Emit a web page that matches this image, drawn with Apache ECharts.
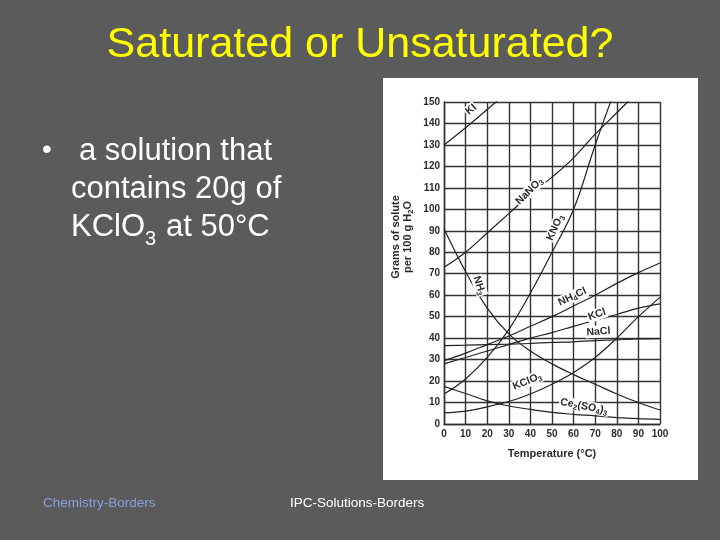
<!DOCTYPE html>
<html><head><meta charset="utf-8">
<script src="https://cdn.jsdelivr.net/npm/echarts@6/dist/echarts.min.js"></script>
<style>html,body{margin:0;padding:0;background:#5b5b5b}#c{width:720px;height:540px}</style>
</head><body><div id="c"></div>
<script>
// Temperatures (°C)
const temps = [0,10,20,30,40,50,60,70,80,90,100];
// Solubility (g solute per 100 g H2O)
const KI      = [130,138,146.5,155,null,null,null,null,null,null,null];
const NaNO3   = [73,80,89,98,107,115,124,135,145,155,null];
const KNO3    = [14,21,31,44,61,80,100,130,158,null,null];
const NH3     = [91,71,54,42,34,28,23,18.5,14,10,6.5];
const NH4Cl   = [29.5,33,37,41,45.5,50,55,60,65.5,70.5,75];
const KCl     = [28,31,34,37,40,42.6,45.5,48.3,51,54,56];
const NaCl    = [36.5,36.7,37,37.2,37.5,38,38.3,38.8,39.2,39.6,39.8];
const KClO3   = [5.2,6,8,10.5,14,18.5,24,31,40,50,59];
const Ce2SO43 = [17.5,14.2,10.8,8.4,6.8,5.4,4.5,3.8,3,2.5,2.2];
// Tick values
const xTicks = {min:0, max:100, step:10};
const yTicks = {min:0, max:150, step:10};

const curves = [
  {name:'KI', data:KI, lab:'{a|KI}', at:[12.5,146.5], rot:40},
  {name:'NaNO3', data:NaNO3, lab:'{a|NaNO}{s|3}', at:[39.5,108.5], rot:45},
  {name:'KNO3', data:KNO3, lab:'{a|KNO}{s|3}', at:[51.5,91.5], rot:66},
  {name:'NH3', data:NH3, lab:'{a|NH}{s|3}', at:[16.3,64.5], rot:-72},
  {name:'NH4Cl', data:NH4Cl, lab:'{a|NH}{s|4}{a|Cl}', at:[59.4,59.3], rot:25},
  {name:'KCl', data:KCl, lab:'{a|KCl}', at:[70.8,51], rot:20},
  {name:'NaCl', data:NaCl, lab:'{a|NaCl}', at:[71.5,43], rot:4},
  {name:'KClO3', data:KClO3, lab:'{a|KClO}{s|3}', at:[38.5,19.8], rot:22},
  {name:'Ce2(SO4)3', data:Ce2SO43, lab:'{a|Ce}{s|2}{a|(SO}{s|4}{a|)}{s|3}', at:[64.8,8.2], rot:-11}
];

const font = 'Liberation Sans, Arial, DejaVu Sans, sans-serif';
const ink = '#2b2b2b';
const rich = {
  a:{color:ink, fontWeight:'bold', fontSize:10.5, fontFamily:font, lineHeight:12},
  s:{color:ink, fontWeight:'bold', fontSize:7.5, fontFamily:font, lineHeight:8, padding:[6,0,0,0]}
};

const chart = echarts.init(document.getElementById('c'), null, {renderer:'canvas'});
chart.setOption({
  animation:false,
  backgroundColor:'#5b5b5b',
  graphic:[
    {type:'rect', z:-10, shape:{x:383,y:78,width:315,height:402}, style:{fill:'#ffffff'}},
    {type:'text', left:'center', top:24, style:{text:'Saturated or Unsaturated?', fill:'#ffff00', font:'43px '+font}},
    {type:'text', left:42, top:136, style:{text:'•', fill:'#ffffff', font:'28px '+font}},
    {type:'text', left:79, top:136, style:{text:'a solution that', fill:'#ffffff', font:'31px '+font}},
    {type:'text', left:71, top:174, style:{text:'contains 20g of', fill:'#ffffff', font:'31px '+font}},
    {type:'text', left:71, top:212, style:{text:'KClO', fill:'#ffffff', font:'31px '+font}},
    {type:'text', left:145, top:229, style:{text:'3', fill:'#ffffff', font:'20px '+font}},
    {type:'text', left:166, top:212, style:{text:'at 50°C', fill:'#ffffff', font:'31px '+font}},
    {type:'text', left:43, top:496, style:{text:'Chemistry-Borders', fill:'#8a9fd9', font:'13.5px '+font}},
    {type:'text', left:290, top:496, style:{text:'IPC-Solutions-Borders', fill:'#ffffff', font:'13.5px '+font}},
    {type:'text', x:402, y:237, rotation:Math.PI/2, style:{
      text:'{b|Grams of solute}\n{b|per 100 g H}{t|2}{b|O}', align:'center', verticalAlign:'middle',
      rich:{
        b:{fill:ink, font:'bold 11px '+font, lineHeight:12},
        t:{fill:ink, font:'bold 7.5px '+font, lineHeight:8, padding:[6,0,0,0]}
      }}}
  ],
  grid:{left:444, right:60, top:102, bottom:116},
  xAxis:{
    type:'value', min:xTicks.min, max:xTicks.max, interval:xTicks.step,
    name:'Temperature (°C)', nameLocation:'middle', nameGap:24,
    nameTextStyle:{color:ink, fontWeight:'bold', fontSize:11, fontFamily:font},
    axisLine:{lineStyle:{color:'#2e2e2e', width:1.4}}, axisTick:{show:false},
    axisLabel:{color:ink, fontWeight:'bold', fontSize:10, fontFamily:font, margin:5},
    splitLine:{show:true, lineStyle:{color:'#333', width:1.4}}
  },
  yAxis:{
    type:'value', min:yTicks.min, max:yTicks.max, interval:yTicks.step,
    axisLine:{show:true, lineStyle:{color:'#2e2e2e', width:1.4}}, axisTick:{show:false},
    axisLabel:{color:ink, fontWeight:'bold', fontSize:10, fontFamily:font, margin:4},
    splitLine:{show:true, lineStyle:{color:'#333', width:1.4}}
  },
  series: curves.map(c => ({
    type:'line', name:c.name, smooth:0.4, symbol:'none', clip:true,
    data: temps.map((t,i) => [t, c.data[i]]).filter(p => p[1] !== null),
    lineStyle:{color:'#222', width:1.2},
    markPoint:{
      symbol:'circle', symbolSize:1, itemStyle:{color:'rgba(0,0,0,0)'},
      label:{show:true, position:'inside', formatter:c.lab, rotate:c.rot, rich:rich, backgroundColor:'#fff', padding:[0,1]},
      data:[{coord:c.at}]
    }
  }))
});
</script></body></html>
